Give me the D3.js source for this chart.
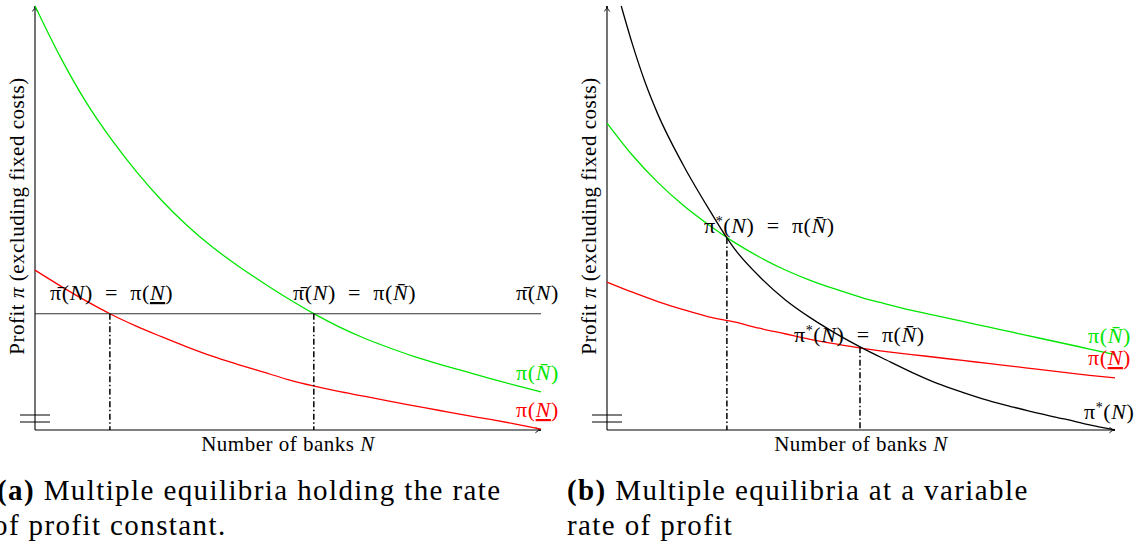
<!DOCTYPE html>
<html>
<head>
<meta charset="utf-8">
<script src="https://cdn.jsdelivr.net/npm/d3@7"></script>
<style>
  body { margin: 0; background: #fff; }
  text { font-family: "Liberation Serif", "DejaVu Serif", serif; }
</style>
</head>
<body>
<div id="vis-container"></div>
<script>
const width = 1146,
    height = 546;

// panel (a): profit curves for a fixed rate of profit
const leftN     = [0, 0.5, 1, 1.5, 2, 2.5, 3, 3.5, 4, 4.5, 5, 5.5, 6, 6.5, 7, 7.5, 8, 8.5, 9, 9.5, 10];
const leftHigh  = [10, 8.8, 7.75, 6.87, 6.10, 5.42, 4.83, 4.32, 3.88, 3.48, 3.10, 2.75, 2.44, 2.17, 1.94, 1.73, 1.55, 1.38, 1.21, 1.05, 0.90];
const leftLow   = [3.77, 3.40, 3.05, 2.73, 2.45, 2.20, 1.96, 1.74, 1.55, 1.37, 1.19, 1.04, 0.91, 0.80, 0.68, 0.57, 0.46, 0.35, 0.25, 0.14, 0.02];
const piBar     = 2.74;
const leftEq    = [1.48, 5.51];

// panel (b): variable rate of profit
const rightN    = [0, 0.5, 1, 1.5, 2, 2.5, 3, 3.5, 4, 4.5, 5, 5.5, 6, 6.5, 7, 7.5, 8, 8.5, 9, 9.5, 10];
const rightHigh = [7.24, 6.48, 5.84, 5.30, 4.84, 4.43, 4.08, 3.78, 3.53, 3.32, 3.13, 2.97, 2.82, 2.69, 2.56, 2.43, 2.30, 2.17, 2.04, 1.91, 1.78];
const rightLow  = [3.49, 3.25, 3.03, 2.84, 2.67, 2.55, 2.40, 2.27, 2.14, 2.03, 1.93, 1.85, 1.78, 1.71, 1.64, 1.57, 1.50, 1.43, 1.36, 1.29, 1.23];
const starN     = [0.28, 0.5, 0.75, 1, 1.5, 2, 2.36, 2.5, 3, 3.5, 4, 4.5, 5, 5.5, 6, 6.5, 7, 7.5, 8, 8.5, 9, 9.5, 10];
const starPi    = [10, 9.1, 8.2, 7.45, 6.25, 5.22, 4.53, 4.29, 3.62, 3.08, 2.65, 2.28, 1.95, 1.65, 1.36, 1.10, 0.89, 0.70, 0.54, 0.39, 0.26, 0.12, 0];
const rightEq   = [[2.36, 4.53], [4.98, 1.95]];

const captions = [
    ["(a)", " Multiple equilibria holding the rate", "of profit constant."],
    ["(b)", " Multiple equilibria at a variable", "rate of profit"]
];

var svg = d3.select("#vis-container").append("svg")
    .attr("width", width)
    .attr("height", height);

svg.append("defs").append("marker")
    .attr("id", "arr")
    .attr("viewBox", "0 0 10 10")
    .attr("refX", 9).attr("refY", 5)
    .attr("markerWidth", 7).attr("markerHeight", 7)
    .attr("markerUnits", "userSpaceOnUse")
    .attr("orient", "auto")
  .append("path")
    .attr("d", "M1,1 Q5,5 9,5 Q5,5 1,9")
    .attr("fill", "none")
    .attr("stroke", "#000")
    .attr("stroke-width", 1.3);

const y = d3.scaleLinear().domain([0, 10]).range([430, 6]);
const xL = d3.scaleLinear().domain([0, 10]).range([35, 541]);
const xR = d3.scaleLinear().domain([0, 10]).range([607, 1115]);

function frame(x) {
    var g = svg.append("g");
    g.append("line")
        .attr("x1", x(0)).attr("y1", y(0))
        .attr("x2", x(0)).attr("y2", y(10))
        .attr("stroke", "#000").attr("stroke-width", 1.1)
        .attr("marker-end", "url(#arr)");
    g.append("line")
        .attr("x1", x(0)).attr("y1", y(0))
        .attr("x2", x(10)).attr("y2", y(0))
        .attr("stroke", "#000").attr("stroke-width", 1.1)
        .attr("marker-end", "url(#arr)");
    // axis break
    [415, 422].forEach(function(b) {
        g.append("line")
            .attr("x1", x(0) - 15).attr("x2", x(0) + 15)
            .attr("y1", b).attr("y2", b)
            .attr("stroke", "#000").attr("stroke-width", 1);
    });
    g.append("text")
        .attr("x", (x(0) + x(10)) / 2).attr("y", 451)
        .attr("text-anchor", "middle")
        .attr("font-size", 21)
        .attr("letter-spacing", 0.5)
        .html('Number of banks <tspan font-style="italic">N</tspan>');
    g.append("text")
        .attr("transform", "translate(" + (x(0) - 11) + ",216) rotate(-90)")
        .attr("text-anchor", "middle")
        .attr("font-size", 21)
        .attr("letter-spacing", 0.5)
        .html('Profit <tspan font-style="italic">π</tspan> (excluding fixed costs)');
    return g;
}

function curve(x, xs, ys, color) {
    var line = d3.line()
        .x(function(d) { return x(d[0]); })
        .y(function(d) { return y(d[1]); })
        .curve(d3.curveMonotoneX);
    svg.append("path")
        .datum(d3.zip(xs, ys))
        .attr("d", line)
        .attr("fill", "none")
        .attr("stroke", color)
        .attr("stroke-width", 1.3);
}

function dropLine(x, n, p) {
    svg.append("line")
        .attr("x1", x(n)).attr("x2", x(n))
        .attr("y1", y(p)).attr("y2", y(0))
        .attr("stroke", "#000").attr("stroke-width", 1.5)
        .attr("stroke-dasharray", "6,2.5,1.5,2.5");
}

// math snippets
const N = '<tspan font-style="italic">N</tspan>';
const Nbar = '<tspan font-style="italic">N\u0304</tspan>';
const Nund = '<tspan font-style="italic" text-decoration="underline">N</tspan>';
const piB = 'π\u0304';
const piS = 'π<tspan baseline-shift="super" font-size="14">*</tspan>';

function label(px, py, html, color) {
    svg.append("text")
        .attr("x", px).attr("y", py)
        .attr("font-size", 22)
        .attr("letter-spacing", 0.6)
        .attr("fill", color || "#000")
        .attr("xml:space", "preserve")
        .html(html);
}

// ---- panel (a)
frame(xL);
curve(xL, leftN, leftHigh, "#00e600");
curve(xL, leftN, leftLow, "#ff0000");
svg.append("line")
    .attr("x1", xL(0)).attr("x2", xL(10))
    .attr("y1", y(piBar)).attr("y2", y(piBar))
    .attr("stroke", "#333").attr("stroke-width", 1.1);
leftEq.forEach(function(n) { dropLine(xL, n, piBar); });

label(50, 300, piB + '(' + N + ')  =  π(' + Nund + ')');
label(293, 300, piB + '(' + N + ')  =  π(' + Nbar + ')');
label(516, 300, piB + '(' + N + ')');
label(516, 380, 'π(' + Nbar + ')', "#00e600");
label(516, 417, 'π(' + Nund + ')', "#ff0000");

// ---- panel (b)
frame(xR);
curve(xR, rightN, rightHigh, "#00e600");
curve(xR, rightN, rightLow, "#ff0000");
curve(xR, starN, starPi, "#000");
rightEq.forEach(function(e) { dropLine(xR, e[0], e[1]); });

label(704, 233, piS + '(' + N + ')  =  π(' + Nbar + ')');
label(794, 342, piS + '(' + N + ')  =  π(' + Nbar + ')');
label(1088, 343, 'π(' + Nbar + ')', "#00e600");
label(1088, 365, 'π(' + Nund + ')', "#ff0000");
label(1084, 419, piS + '(' + N + ')');

// ---- captions
[-3, 567].forEach(function(cx, i) {
    var t = svg.append("text")
        .attr("x", cx).attr("y", 500)
        .attr("font-size", 29)
        .attr("letter-spacing", 1.4);
    t.append("tspan").attr("font-weight", "bold").text(captions[i][0]);
    t.append("tspan").text(captions[i][1]);
    svg.append("text")
        .attr("x", cx - (i === 0 ? 4 : 0)).attr("y", 535)
        .attr("font-size", 29)
        .attr("letter-spacing", 1.4)
        .text(captions[i][2]);
});
</script>
</body>
</html>
